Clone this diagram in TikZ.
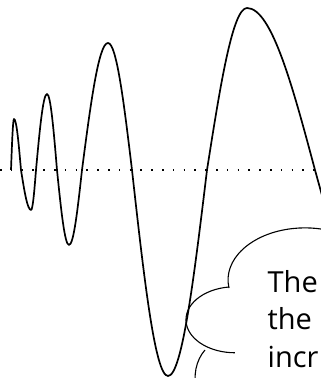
\documentclass[tikz,border=0pt]{standalone}
\usepackage{fontspec}
\newfontfamily\notefont{Open Sans}
\usepackage{xcolor}
\definecolor{Ink}{HTML}{000000}

\begin{document}
\begin{tikzpicture}[x=1bp,y=1bp,
  wave/.style={draw=Ink,line width=1.7bp,line join=round},
  axisline/.style={draw=Ink,line width=1.6bp,dash pattern=on 1.6bp off 9.2bp},
  puff/.style={draw=Ink,line width=1.1bp},
  note/.style={anchor=north west,inner sep=0pt,align=left,text=Ink,
    font=\notefont\fontsize{29bp}{37.5bp}\selectfont}]
  \useasboundingbox (0,0) rectangle (321,-378);
  \clip (0,0) rectangle (321,-378);
  % axis
  \coordinate (axl) at (0,-170);
  \coordinate (axr) at (321,-170);
  \draw[axisline] (axl) -- (axr);
  % the wave, quarter by quarter
  \coordinate (w0) at (11,-170);
  \draw[wave] (w0) sin (14,-119) cos (21,-170) sin (31,-210) cos (36,-170)
    sin (47,-94) cos (57,-170) sin (69,-245) cos (82,-170)
    sin (108,-43) cos (132,-170) sin (168,-376) cos (207,-170)
    sin (247,-8) cos (315,-170) sin (415,-400);
  % the cloud, cut by the frame
  \draw[puff] (229,-288) arc[start angle=189,end angle=30,x radius=77bp,y radius=52bp];
  \draw[puff] (229,-287) arc[start angle=97,end angle=270,x radius=49bp,y radius=33bp];
  \draw[puff] (205,-350) arc[start angle=132,end angle=200,x radius=30bp,y radius=37.5bp];
  \node[note] (remark) at (267.5,-270) {The\\the\\incr};
\end{tikzpicture}
\end{document}
